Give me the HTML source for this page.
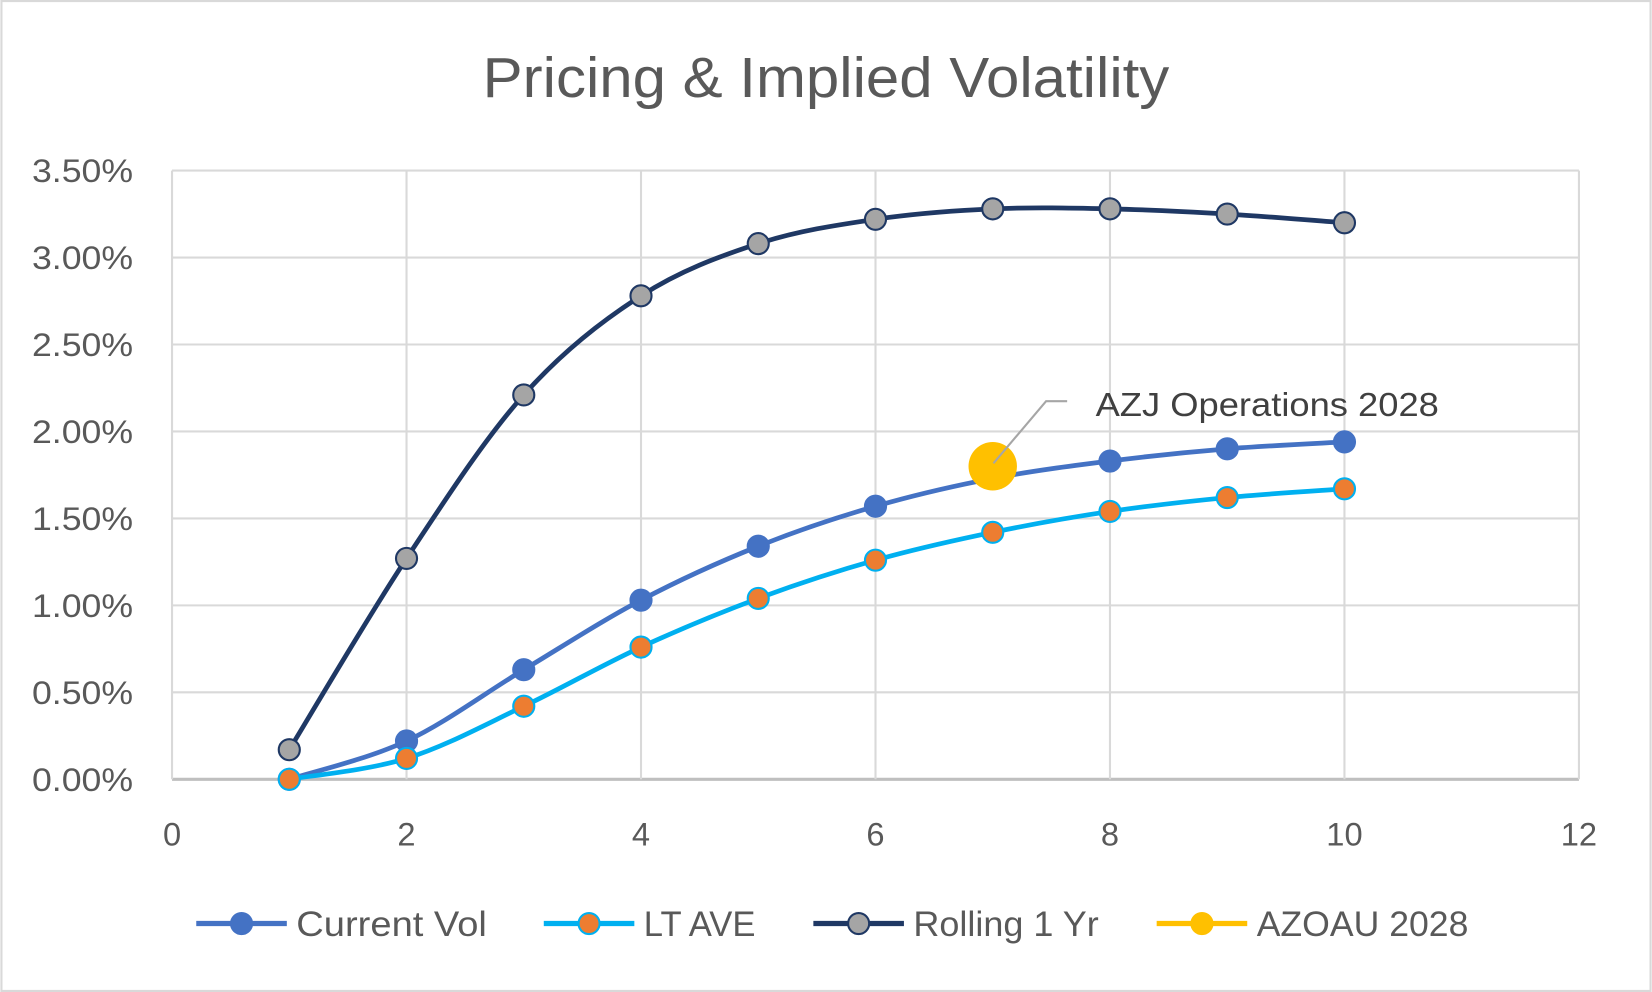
<!DOCTYPE html>
<html><head><meta charset="utf-8"><style>
html,body{margin:0;padding:0;background:#fff;}
svg{display:block;font-family:"Liberation Sans","DejaVu Sans",sans-serif;}
</style></head><body>
<svg id="chart" width="1652" height="992" viewBox="0 0 1568 942" xmlns="http://www.w3.org/2000/svg">
<rect x="1" y="1" width="1566" height="940" fill="#fff" stroke="#d9d9d9" stroke-width="2"/>
<text x="784" y="92" text-anchor="middle" font-size="54" textLength="652" lengthAdjust="spacingAndGlyphs" fill="#595959">Pricing &amp; Implied Volatility</text>
<g id="grid"></g><g id="series"></g><g id="labels"></g>
<g>
<polyline points="943,440 993,381 1013,381" fill="none" stroke="#a6a6a6" stroke-width="2"/>
<text x="1040" y="395" font-size="32" textLength="326" lengthAdjust="spacingAndGlyphs" fill="#404040">AZJ Operations 2028</text>
</g>
<g id="legend"></g>
</svg>
<script>
const xs = [1,2,3,4,5,6,7,8,9,10];
const currentVol = [0.00,0.22,0.63,1.03,1.34,1.57,1.73,1.83,1.90,1.94];
const ltAve = [0.00,0.12,0.42,0.76,1.04,1.26,1.42,1.54,1.62,1.67];
const rolling1Yr = [0.17,1.27,2.21,2.78,3.08,3.22,3.28,3.28,3.25,3.20];
const azoauX = [7];
const azoauY = [1.80];
const xTicks = [0,2,4,6,8,10,12];
const yTicks = [0,0.5,1,1.5,2,2.5,3,3.5];
const yTickLabels = ["0.00%","0.50%","1.00%","1.50%","2.00%","2.50%","3.00%","3.50%"];

const NS="http://www.w3.org/2000/svg";
const L=163,R=1499,T=162,B=740;
const sx=v=>L+(v-0)/12*(R-L);
const sy=v=>B-v/3.5*(B-T);
function mk(tag,attrs,parent){const e=document.createElementNS(NS,tag);for(const k in attrs)e.setAttribute(k,attrs[k]);parent.appendChild(e);return e;}
const grid=document.getElementById('grid'),ser=document.getElementById('series'),lab=document.getElementById('labels'),leg=document.getElementById('legend');
yTicks.forEach((t,i)=>{
  const ln=mk('line',{x1:L,x2:R,y1:sy(t),y2:sy(t),stroke:t===0?'#bfbfbf':'#d9d9d9','stroke-width':t===0?3:2},grid);
  
  
  const tx=mk('text',{x:126,y:sy(t)+11,'text-anchor':'end','font-size':31,textLength:96,lengthAdjust:'spacingAndGlyphs',fill:'#595959'},lab);
  tx.textContent=yTickLabels[i];
  
  
});
xTicks.forEach(t=>{
  const ln=mk('line',{x1:sx(t),x2:sx(t),y1:T,y2:B,stroke:'#d9d9d9','stroke-width':2},grid);
  
  
  const tx=mk('text',{x:sx(t),y:803,'text-anchor':'middle','font-size':31,fill:'#595959'},lab);
  tx.textContent=t;
  
  
});
function smooth(pts){
  let d=`M${pts[0][0]},${pts[0][1]}`;
  for(let i=0;i<pts.length-1;i++){
    const p0=pts[i-1]||pts[i],p1=pts[i],p2=pts[i+1],p3=pts[i+2]||p2;
    const c1=[p1[0]+(p2[0]-p0[0])/6,p1[1]+(p2[1]-p0[1])/6];
    const c2=[p2[0]-(p3[0]-p1[0])/6,p2[1]-(p3[1]-p1[1])/6];
    d+=` C${c1[0]},${c1[1]} ${c2[0]},${c2[1]} ${p2[0]},${p2[1]}`;
  }
  return d;
}
function series(name,vals,line,fill,stroke){
  const pts=xs.map((x,i)=>[sx(x),sy(vals[i])]);
  const p=mk('path',{d:smooth(pts),fill:'none',stroke:line,'stroke-width':4.5},ser);
  
  
  pts.forEach(q=>{
    const c=mk('circle',{cx:q[0],cy:q[1],r:10,fill:fill,stroke:stroke,'stroke-width':2},ser);
    
    
  });
}
series('current-vol',currentVol,'#4472c4','#4472c4','#4472c4');
series('lt-ave',ltAve,'#00b0f0','#ed7d31','#00b0f0');
series('rolling-1yr',rolling1Yr,'#1f3864','#a5a5a5','#1f3864');
azoauX.forEach((x,i)=>{
  const c=mk('circle',{cx:sx(x),cy:sy(azoauY[i]),r:23,fill:'#ffc000'},ser);
  
  
});
const items=[['Current Vol','#4472c4','#4472c4','#4472c4',186,181],['LT AVE','#00b0f0','#ed7d31','#00b0f0',516,106],['Rolling 1 Yr','#1f3864','#a5a5a5','#1f3864',772,176],['AZOAU 2028','#ffc000','#ffc000','#ffc000',1098,201]];
items.forEach(it=>{
  const g=mk('g',{},leg);
  
  
  mk('line',{x1:it[4],x2:it[4]+86,y1:877,y2:877,stroke:it[1],'stroke-width':5},g);
  mk('circle',{cx:it[4]+43,cy:877,r:10,fill:it[2],stroke:it[3],'stroke-width':2},g);
  const t=mk('text',{x:it[4]+95,y:889,'font-size':33,textLength:it[5],lengthAdjust:'spacingAndGlyphs',fill:'#595959'},g);
  t.textContent=it[0];
});
</script>
</body></html>
